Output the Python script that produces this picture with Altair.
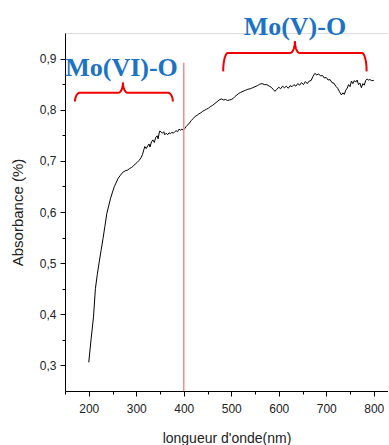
import altair as alt
import pandas as pd
import numpy as np

# Spectrum (wavelength nm, absorbance)
wavelength = [200, 205, 210, 214, 218, 222, 226, 230, 234, 238, 242, 246, 250, 254, 258, 262, 266, 270, 274, 278,
              282, 286, 290, 294, 298, 302, 306, 310, 313, 316, 318, 321, 324, 327, 329, 332, 335, 338, 341, 344,
              346, 349, 352, 355, 358, 360, 363, 366, 369, 372, 375, 378, 381, 384, 387, 390, 393, 396, 399, 402,
              405, 408, 412, 416, 420, 424, 428, 432, 436, 440, 444, 448, 452, 456, 460, 464, 468, 472, 476, 480,
              484, 488, 492, 496, 500, 504, 508, 512, 516, 520, 525, 530, 535, 540, 545, 550, 555, 560, 565, 570,
              575, 580, 584, 588, 592, 596, 600, 604, 608, 612, 616, 620, 624, 628, 632, 636, 640, 644, 648, 652,
              656, 660, 664, 668, 672, 676, 680, 684, 688, 692, 696, 700, 704, 708, 712, 716, 720, 724, 728, 732,
              735, 738, 741, 744, 747, 750, 753, 756, 759, 762, 765, 768, 771, 774, 777, 780, 783, 786, 789, 792,
              795, 800]
absorbance = [0.306, 0.352, 0.395, 0.450, 0.478, 0.502, 0.525, 0.548, 0.572, 0.597, 0.612, 0.627, 0.639, 0.650,
              0.658, 0.666, 0.671, 0.676, 0.679, 0.681, 0.682, 0.685, 0.687, 0.690, 0.694, 0.697, 0.701, 0.706,
              0.712, 0.722, 0.728, 0.724, 0.729, 0.733, 0.727, 0.737, 0.741, 0.736, 0.746, 0.749, 0.743, 0.758,
              0.757, 0.754, 0.757, 0.751, 0.754, 0.751, 0.755, 0.753, 0.756, 0.754, 0.757, 0.759, 0.757, 0.762,
              0.760, 0.762, 0.760, 0.763, 0.767, 0.770, 0.774, 0.779, 0.783, 0.787, 0.789, 0.792, 0.794, 0.797,
              0.799, 0.801, 0.803, 0.806, 0.808, 0.811, 0.814, 0.817, 0.820, 0.821, 0.819, 0.820, 0.818, 0.819,
              0.820, 0.822, 0.826, 0.829, 0.832, 0.834, 0.836, 0.838, 0.840, 0.841, 0.843, 0.845, 0.847, 0.850,
              0.851, 0.849, 0.849, 0.846, 0.844, 0.840, 0.836, 0.840, 0.844, 0.841, 0.846, 0.843, 0.846, 0.842,
              0.847, 0.845, 0.849, 0.846, 0.851, 0.848, 0.853, 0.849, 0.855, 0.851, 0.856, 0.857, 0.865, 0.871,
              0.868, 0.870, 0.866, 0.867, 0.862, 0.863, 0.858, 0.859, 0.853, 0.852, 0.846, 0.842, 0.835, 0.829,
              0.833, 0.830, 0.838, 0.842, 0.849, 0.845, 0.856, 0.851, 0.857, 0.854, 0.858, 0.849, 0.852, 0.843,
              0.851, 0.848, 0.857, 0.860, 0.858, 0.859, 0.857, 0.857]

# Annotations
label_text = ["Mo(VI)-O", "Mo(V)-O"]
label_x = [269, 634]
label_y = [0.882, 0.962]

# Braces: left end, right end, middle, end level, flat level, peak level, arc width (nm)
brace_x0 = [171, 483]
brace_x1 = [377, 785]
brace_xm = [272, 634]
brace_yend = [0.816, 0.875]
brace_yflat = [0.833, 0.911]
brace_ypeak = [0.853, 0.934]
brace_r = [10, 10]

marker_x = [400]
marker_y = [0.892]

X_DOMAIN = [150, 830]
Y_DOMAIN = [0.25, 0.95]
x_ticks = [150, 200, 250, 300, 350, 400, 450, 500, 550, 600, 650, 700, 750, 800]
y_ticks = [0.30, 0.35, 0.40, 0.45, 0.50, 0.55, 0.60, 0.65, 0.70, 0.75, 0.80, 0.85, 0.90]

spec_df = pd.DataFrame({"x": wavelength, "y": absorbance})

# build brace paths
rows = []
t = np.linspace(0, np.pi / 2, 8)
for b in range(2):
    x0, x1, xm = brace_x0[b], brace_x1[b], brace_xm[b]
    ye, yf, yp = brace_yend[b], brace_yflat[b], brace_ypeak[b]
    r = brace_r[b]
    for side, sgn, xe in [("L", 1, x0), ("R", -1, x1)]:
        pts = []
        for tt in t:
            pts.append((xe + sgn * r * (1 - np.cos(tt)), ye + (yf - ye) * np.sin(tt)))
        for tt in t:
            pts.append((xm - sgn * r * (1 - np.sin(tt)), yf + (yp - yf) * (1 - np.cos(tt))))
        for i, (px, py) in enumerate(pts):
            rows.append({"x": px, "y": py, "g": f"{b}{side}", "o": i})
brace_df = pd.DataFrame(rows)

label_df = pd.DataFrame({"x": label_x, "y": label_y, "t": label_text})
marker_df = pd.DataFrame({"x": marker_x, "y": marker_y, "y2": [Y_DOMAIN[0]]})

font = "Liberation Sans"

xscale = alt.Scale(domain=X_DOMAIN, nice=False, zero=False)
yscale = alt.Scale(domain=Y_DOMAIN, nice=False, zero=False)

x_major = "abs(datum.value/100 - round(datum.value/100)) < 0.001 && datum.value >= 200"
y_major = "abs(datum.value*10 - round(datum.value*10)) < 0.01"

x_axis = alt.Axis(
    values=x_ticks, tickCount=30, title="longueur d'onde(nm)", grid=False,
    labelExpr=f"({x_major}) ? datum.label : ''",
    tickSize={"condition": {"test": x_major, "value": 5}, "value": 3},
    domainColor="#000", tickColor="#000", labelColor="#222", titleColor="#222",
    labelFont=font, titleFont=font, labelFontSize=12, titleFontSize=14, titleFontWeight="normal",
    labelPadding=7, titlePadding=17, labelFlush=False, labelOverlap=False,
)
y_axis = alt.Axis(
    values=y_ticks, tickCount=30, title="Absorbance (%)", grid=False,
    labelExpr=f"({y_major}) ? replace(format(datum.value, '.1f'), '.', ',') : ''",
    tickSize={"condition": {"test": y_major, "value": 5}, "value": 3},
    domainColor="#000", tickColor="#000", labelColor="#222", titleColor="#222",
    labelFont=font, titleFont=font, labelFontSize=12, titleFontSize=15, titleFontWeight="normal",
    labelPadding=4, titlePadding=14, labelFlush=False, labelOverlap=False,
)

line = alt.Chart(spec_df).mark_line(color="#000", strokeWidth=1).encode(
    x=alt.X("x:Q", scale=xscale, axis=x_axis),
    y=alt.Y("y:Q", scale=yscale, axis=y_axis),
)

marker = alt.Chart(marker_df).mark_rule(color="#f98a8a", strokeWidth=1.5).encode(
    x="x:Q", y="y:Q", y2="y2:Q"
)

braces = alt.Chart(brace_df).mark_line(color="#f00000", strokeWidth=2, clip=False).encode(
    x="x:Q", y="y:Q", detail="g:N", order="o:Q"
)

labels = alt.Chart(label_df).mark_text(
    font="Liberation Serif", fontWeight="bold", fontSize=26, color="#1c73c4",
    align="center", baseline="middle", clip=False
).encode(x="x:Q", y="y:Q", text="t:N")

chart = alt.layer(line, marker, braces, labels).properties(
    width=323, height=358,
    autosize=alt.AutoSizeParams(type="none"),
    padding={"left": 65, "top": 33, "right": 0, "bottom": 54},
).configure_view(stroke=None).configure(background="white")

chart.save("out.html", embed_options={"renderer": "svg", "actions": False})
